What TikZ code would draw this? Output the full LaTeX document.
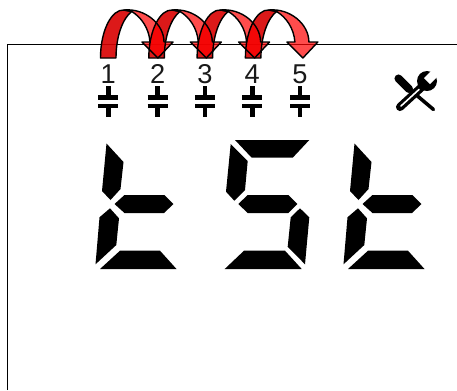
\documentclass[tikz,border=0pt]{standalone}
\usepackage{fontspec}
\setmainfont{Liberation Sans}
\usepackage{xcolor}
\definecolor{arrowdark}{RGB}{216,0,0}
\tikzset{
  seg/.style={fill=black},
  capline/.style={line width=2.7pt},
  bendlight/.style={fill=red,fill opacity=0.7},
  benddark/.style={fill=arrowdark,fill opacity=0.9},
  bendline/.style={draw=black,line width=0.8pt,line join=round},
}
\def\lightpath{(124,10) .. controls (145,8) and (164,24) .. (164,42) -- (173,42) -- (158,58) -- (142,42) -- (150,42) .. controls (149,28) and (141,17) .. (131.7,11.5) -- cycle}
\def\darkpath{(100.5,58) .. controls (100.5,30) and (112,9) .. (124,10) -- (131.7,11.5) .. controls (123,18) and (116,36) .. (116,58) -- cycle}
\begin{document}
\begin{tikzpicture}[x=0.02cm,y=-0.02cm,font=\fontsize{15.5}{15.5}\selectfont]
\useasboundingbox (0,0) rectangle (457,390);
\draw[line width=0.5pt] (7,390) -- (7,44) -- (457,44);
% the two letters t
\foreach \s in {0,248} {
\begin{scope}[shift={(\s,0)}]
\fill[seg] (106.5,143.5) -- (123.5,162) -- (120.5,189) -- (110.5,200) -- (102,191) -- cycle;
\fill[seg] (114.5,204) -- (124.5,195) -- (164.5,195) -- (173.5,204) -- (164,213) -- (124.5,213) -- cycle;
\fill[seg] (110,208.3) -- (119,218.3) -- (116.3,245) -- (95.5,264.3) -- (99.5,217.3) -- cycle;
\fill[seg] (100,269) -- (120,250.7) -- (160,250.7) -- (176.5,269) -- cycle;
\end{scope}
}
% the letter S
\fill[seg] (235,140) -- (309.3,140) -- (292.7,157.7) -- (251.7,157.7) -- cycle;
\fill[seg] (230.7,144) -- (247.7,161) -- (245,190) -- (234.3,200.7) -- (226,191.7) -- cycle;
\fill[seg] (238.3,204) -- (247.7,195) -- (288.3,195) -- (297.3,204) -- (288.3,213) -- (247.7,213) -- cycle;
\fill[seg] (300,208.3) -- (309.3,217.3) -- (305,264.3) -- (287.7,246.7) -- (290.7,217.3) -- cycle;
\fill[seg] (224.7,269) -- (244,250.7) -- (285,250.7) -- (301.7,269) -- cycle;
% channels
\foreach \n/\x in {1/108.3,2/157.7,3/205,4/252.3,5/300} {
\node[text=black!90,inner sep=0pt] (lbl\n) at (\x,74) {\n};
\draw[capline] (\x,86) -- (\x,97.7);
\draw[capline] (\x-10,97.7) -- (\x+10,97.7);
\draw[capline] (\x-10,106) -- (\x+10,106);
\draw[capline] (\x,106) -- (\x,117);
}
% bent arrows
\foreach \s in {0,48.3,96.6,144.9} {
\fill[benddark,shift={(\s,0)}] \darkpath;
}
\foreach \s in {0,48.3,96.6,144.9} {
\fill[bendlight,shift={(\s,0)}] \lightpath;
}
\foreach \s in {0,48.3,96.6,144.9} {
\path[bendline,shift={(\s,0)}] \darkpath;
\path[bendline,shift={(\s,0)}] \lightpath;
}
% tools icon
\draw[line width=4.6pt,line cap=round] (398.5,78.5) -- (409,89);
\draw[line width=2pt,line cap=round] (408,88) -- (433.5,109.5);
\draw[line width=4.6pt,line cap=round] (400,107) -- (424,85);
\draw[white,line width=0.9pt,line cap=round] (401,106) -- (419,89.5);
\fill (427,81) circle (10);
\fill[white] (424,78) -- (434.5,67.5) -- (440.5,73.5) -- (430,84) -- cycle;
\end{tikzpicture}
\end{document}
